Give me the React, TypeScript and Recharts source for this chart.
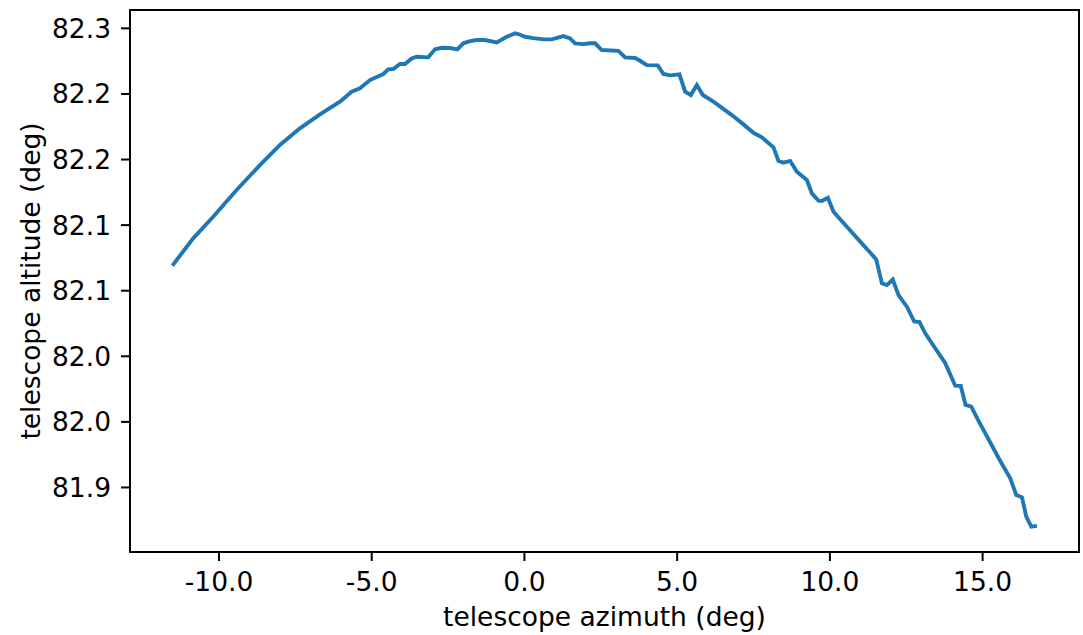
import React from 'react';
import { LineChart, Line, XAxis, YAxis, ReferenceArea } from 'recharts';

// telescope pointing track
const AZIMUTH = [
  -11.527, -10.845, -10.19, -9.424, -8.66, -8.005, -7.35, -6.695, -6.04, -5.657,
  -5.385, -5.057, -4.622, -4.458, -4.294, -4.075, -3.911, -3.691, -3.528, -3.148,
  -2.928, -2.709, -2.437, -2.198, -2.001, -1.782, -1.562, -1.291, -0.907, -0.58,
  -0.308, -0.2, 0.02, 0.292, 0.619, 0.894, 1.274, 1.494, 1.657, 1.929,
  2.149, 2.313, 2.532, 3.076, 3.295, 3.623, 3.786, 4.006, 4.366, 4.55,
  4.769, 5.074, 5.26, 5.447, 5.644, 5.84, 6.187, 6.79, 7.17, 7.498,
  7.773, 8.153, 8.317, 8.48, 8.7, 8.919, 9.247, 9.411, 9.627, 9.738,
  9.935, 10.118, 10.557, 10.993, 11.264, 11.517, 11.703, 11.867, 12.057, 12.247,
  12.522, 12.761, 12.935, 13.122, 13.449, 13.777, 14.104, 14.285, 14.442, 14.628,
  14.867, 15.251, 15.578, 15.906, 16.102, 16.289, 16.43, 16.594, 16.78,
];

const ALTITUDE = [
  82.0991, 82.1199, 82.1364, 82.1568, 82.1758, 82.1911, 82.2038, 82.2145, 82.2241, 82.2317,
  82.2343, 82.2406, 82.2452, 82.2488, 82.249, 82.2528, 82.2528, 82.2571, 82.2584, 82.2579,
  82.264, 82.2652, 82.265, 82.264, 82.2686, 82.2703, 82.2711, 82.2711, 82.2693, 82.2736,
  82.2762, 82.2757, 82.2736, 82.2726, 82.2716, 82.2716, 82.2741, 82.2724, 82.2686, 82.268,
  82.2686, 82.2686, 82.2635, 82.2629, 82.2579, 82.2574, 82.2553, 82.252, 82.2518, 82.2452,
  82.2442, 82.2449, 82.2317, 82.2292, 82.2368, 82.2292, 82.2241, 82.2139, 82.2068, 82.2004,
  82.1969, 82.1893, 82.1789, 82.1776, 82.1789, 82.1707, 82.1644, 82.1542, 82.1486, 82.1484,
  82.1509, 82.1402, 82.1288, 82.1174, 82.1105, 82.1039, 82.0856, 82.0843, 82.0885, 82.0767,
  82.0678, 82.0565, 82.0561, 82.0475, 82.0361, 82.0247, 82.0076, 82.0074, 81.9929, 81.9917,
  81.9807, 81.9643, 81.9502, 81.937, 81.9243, 81.9225, 81.9077, 81.9001, 81.9007,
];

const X_TICKS = [-10, -5, 0, 5, 10, 15];
const Y_TICKS = [81.93, 81.98, 82.03, 82.08, 82.13, 82.18, 82.23, 82.28];
const X_DOMAIN: [number, number] = [-12.914, 18.156];
const Y_DOMAIN: [number, number] = [81.8808, 82.294];

const data = AZIMUTH.map((az, i) => ({ az, alt: ALTITUDE[i] }));

const FONT = '"DejaVu Sans", sans-serif';
const FONT_SIZE = 26.5;
const tickStyle = { fill: '#000', fontSize: FONT_SIZE, fontFamily: FONT };
const axisStroke = { stroke: '#000', strokeWidth: 2 };

const App: React.FC = () => {
  return (
    <div style={{ position: 'absolute', left: 0, top: 0, width: 1083, height: 635, background: '#fff' }}>
      <LineChart width={1083} height={635} data={data} margin={{ top: 10, right: 4, bottom: 0, left: 0 }}>
        <XAxis
          dataKey="az"
          type="number"
          domain={X_DOMAIN}
          ticks={X_TICKS}
          allowDataOverflow
          tickFormatter={(v: number) => v.toFixed(1)}
          height={83}
          tickSize={9}
          tickMargin={11}
          tick={tickStyle}
          axisLine={axisStroke}
          tickLine={axisStroke}
          label={{
            content: () => (
              <text x={604.5} y={626} textAnchor="middle" fill="#000" fontSize={FONT_SIZE} fontFamily={FONT}>
                telescope azimuth (deg)
              </text>
            ),
          }}
        />
        <YAxis
          type="number"
          domain={Y_DOMAIN}
          ticks={Y_TICKS}
          allowDataOverflow
          tickFormatter={(v: number) => v.toFixed(1)}
          width={130}
          tickSize={9}
          tickMargin={10}
          tick={tickStyle}
          axisLine={axisStroke}
          tickLine={axisStroke}
          label={{
            content: () => (
              <text
                x={40}
                y={281}
                transform="rotate(-90, 40, 281)"
                textAnchor="middle"
                fill="#000"
                fontSize={FONT_SIZE}
                fontFamily={FONT}
              >
                telescope altitude (deg)
              </text>
            ),
          }}
        />
        <ReferenceArea
          x1={X_DOMAIN[0]}
          x2={X_DOMAIN[1]}
          y1={Y_DOMAIN[0]}
          y2={Y_DOMAIN[1]}
          fill="none"
          stroke="#000"
          strokeWidth={2}
          ifOverflow="visible"
        />
        <Line
          type="linear"
          dataKey="alt"
          stroke="#1f77b4"
          strokeWidth={3.9}
          dot={false}
          activeDot={false}
          isAnimationActive={false}
        />
      </LineChart>
    </div>
  );
};

export default App;
